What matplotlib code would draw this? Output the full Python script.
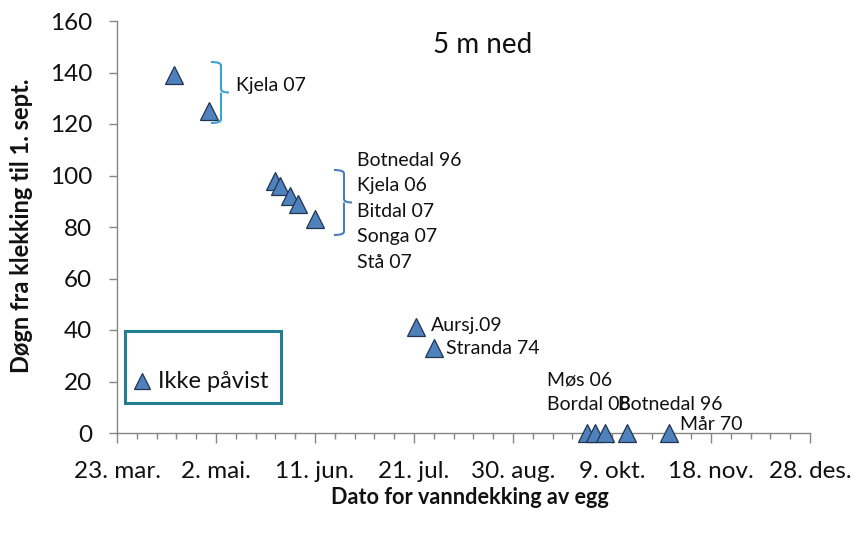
import matplotlib
matplotlib.use("Agg")
import matplotlib.pyplot as plt
import matplotlib.dates as mdates
from matplotlib.patches import Rectangle
from matplotlib.path import Path
from matplotlib.patches import PathPatch
import numpy as np
import datetime as dt

plt.rcParams['font.family'] = ['Lato', 'DejaVu Sans']

# ---- data ----
dates = ["2009-04-15", "2009-04-29", "2009-05-26", "2009-05-28", "2009-06-01",
         "2009-06-04", "2009-06-11", "2009-07-22", "2009-07-29", "2009-09-29",
         "2009-10-02", "2009-10-06", "2009-10-15", "2009-11-01"]
days_to_sept1 = [139, 125, 98, 96, 92, 89, 83, 41, 33, 0, 0, 0, 0, 0]

tick_dates = ["2009-03-23", "2009-05-02", "2009-06-11", "2009-07-21",
              "2009-08-30", "2009-10-09", "2009-11-18", "2009-12-28"]
tick_labels = ["23. mar.", "2. mai.", "11. jun.", "21. jul.",
               "30. aug.", "9. okt.", "18. nov.", "28. des."]
y_ticks = [0, 20, 40, 60, 80, 100, 120, 140, 160]

title = "5 m ned"
xlabel = "Dato for vanndekking av egg"
ylabel = "Døgn fra klekking til 1. sept."
legend_label = "Ikke påvist"

FILL = "#4F81BD"
EDGE = "#1F3550"
SPINE = "#868686"
TXT = "#111111"

W, H = 853, 538
fig = plt.figure(figsize=(W / 100, H / 100), dpi=100)
L, R, T, B = 117, 810, 21, 433
ax = fig.add_axes([L / W, 1 - B / H, (R - L) / W, (B - T) / H])

xd = [mdates.date2num(dt.date.fromisoformat(d)) for d in dates]
ax.plot(xd, days_to_sept1, linestyle="none", marker="^", markersize=12.3,
        markerfacecolor=FILL, markeredgecolor=EDGE, markeredgewidth=0.9,
        clip_on=False, zorder=5)

xt = [mdates.date2num(dt.date.fromisoformat(d)) for d in tick_dates]
ax.set_xlim(xt[0], xt[-1])
ax.set_ylim(0, 160)
ax.set_xticks(xt)
ax.set_xticklabels(tick_labels)
ax.set_xticks(np.arange(xt[0], xt[-1] + 0.1, 8), minor=True)
ax.set_yticks(y_ticks)
ax.set_yticklabels([str(v) for v in y_ticks])

for s in ["top", "right"]:
    ax.spines[s].set_visible(False)
for s in ["left", "bottom"]:
    ax.spines[s].set_color(SPINE)
    ax.spines[s].set_linewidth(1.0)

ax.tick_params(axis="x", which="major", length=7, width=1, color=SPINE,
               labelsize=17.5, pad=13.5, labelcolor=TXT)
ax.tick_params(axis="x", which="minor", length=4.5, width=1, color=SPINE)
ax.tick_params(axis="y", which="major", length=6, width=1, color=SPINE,
               labelsize=17.5, pad=12, labelcolor=TXT)

fig.text(470 / W, 1 - 497 / H, xlabel, ha="center", va="center",
         fontsize=15.6, fontweight="bold", color=TXT)
fig.text(22 / W, 1 - 226 / H, ylabel, ha="center", va="center",
         rotation=90, fontsize=17, fontweight="bold", color=TXT)
fig.text(483 / W, 1 - 45 / H, title, ha="center", va="center",
         fontsize=20, color=TXT)


def ptext(x, y, s, size=14, **kw):
    fig.text(x / W, 1 - y / H, s, ha="left", va="center", fontsize=size,
             color=TXT, **kw)


ptext(236, 86, "Kjela 07")
stack = ["Botnedal 96", "Kjela 06", "Bitdal 07", "Songa 07", "Stå 07"]
for i, s in enumerate(stack):
    ptext(357, 160 + i * 25.6, s)
ptext(431, 325, "Aursj.09")
ptext(446, 348, "Stranda 74")
ptext(547, 380, "Møs 06")
ptext(547, 405, "Bordal 08")
ptext(618, 405, "Botnedal 96")
ptext(680, 424, "Mår 70")


def brace(x0, y0, y1, w, color):
    # right-facing curly brace in pixel coords (y from top)
    ym = (y0 + y1) / 2
    r = 3.5
    verts = [(x0, y0), (x0 + w, y0), (x0 + w, y0 + r), (x0 + w, ym - r),
             (x0 + w, ym), (x0 + w + 8, ym),
             (x0 + w, ym), (x0 + w, ym + r), (x0 + w, y1 - r), (x0 + w, y1),
             (x0, y1)]
    codes = [Path.MOVETO, Path.CURVE3, Path.CURVE3, Path.LINETO,
             Path.CURVE3, Path.CURVE3,
             Path.MOVETO, Path.CURVE3, Path.LINETO, Path.CURVE3, Path.CURVE3]
    verts = [(x / W, 1 - y / H) for x, y in verts]
    p = PathPatch(Path(verts, codes), transform=fig.transFigure, fill=False,
                  edgecolor=color, linewidth=1.5)
    fig.add_artist(p)


brace(211, 62, 123, 10, "#3AA3CF")
brace(334, 170, 235, 10, "#4A7EBB")

# legend-like box
rect = Rectangle((125 / W, 1 - 403 / H), (281 - 125) / W, (403 - 331) / H,
                 transform=fig.transFigure, fill=False, edgecolor="#237E8F",
                 linewidth=2.2)
fig.add_artist(rect)
fig.lines.append(plt.Line2D([142 / W], [1 - 381 / H], transform=fig.transFigure,
                            marker="^", markersize=12, markerfacecolor=FILL,
                            markeredgecolor=EDGE, markeredgewidth=0.9,
                            linestyle="none"))
ptext(158, 381, legend_label, size=17)

fig.savefig("out.png", dpi=100)
